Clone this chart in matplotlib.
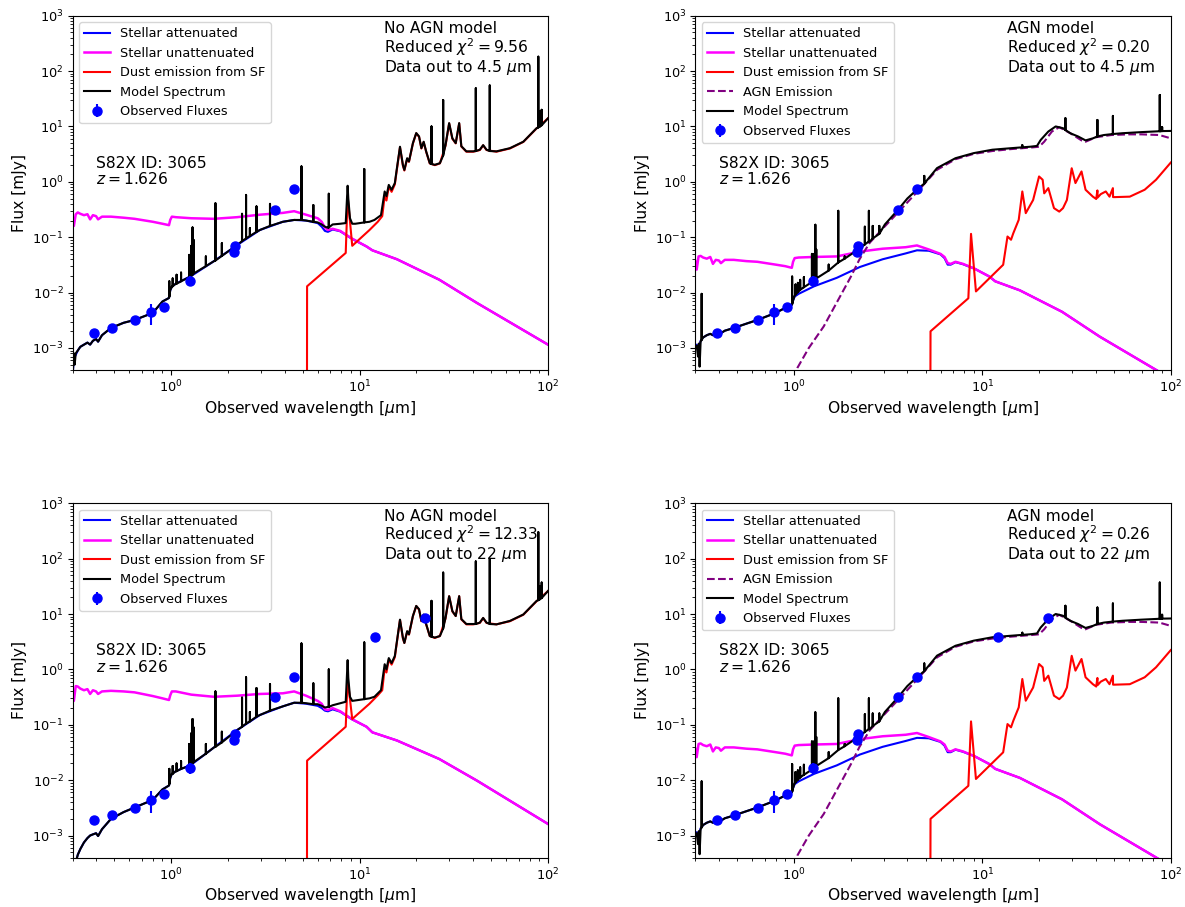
import matplotlib.pyplot as plt
import numpy as np

plt.rcParams['font.size'] = 9.3
plt.rcParams['xtick.major.size'] = 3.3
plt.rcParams['ytick.major.size'] = 3.3
plt.rcParams['xtick.major.pad'] = 3.3
plt.rcParams['ytick.major.pad'] = 3.3
plt.rcParams['xtick.minor.size'] = 1.9
plt.rcParams['ytick.minor.size'] = 1.9

# observed photometry (um, mJy)
obs_wl = [0.39, 0.485, 0.645, 0.785, 0.92, 1.26, 2.165, 2.185, 3.56, 4.51]
obs_flux = [0.0019, 0.0023, 0.0032, 0.00445, 0.0056, 0.0165, 0.054, 0.068, 0.313, 0.74]
obs_err = [0.0001, 0.0001, 0.00015, 0.0019, 0.0002, 0.0036, 0.002, 0.002, 0.01, 0.02]
wise_wl = [12.1, 22.2]
wise_flux = [3.8, 8.4]
wise_err = [0.15, 0.4]

# stellar templates
wl_star = [0.300, 0.305, 0.312, 0.320, 0.330, 0.345, 0.360, 0.372, 0.385, 0.400,
           0.410, 0.430, 0.480, 0.560, 0.640, 0.800, 0.900, 0.975, 0.990, 1.010,
           1.060, 1.280, 1.690, 2.240, 2.960, 3.920, 4.500, 5.200, 6.000, 6.300,
           6.550, 6.800, 7.200, 7.900, 9.100, 10.90, 11.70, 15.80, 26.50, 42.00,
           100.0]
unatt_45 = [0.24, 0.16, 0.26, 0.28, 0.265, 0.25, 0.26, 0.21, 0.25, 0.24,
            0.21, 0.235, 0.235, 0.225, 0.215, 0.19, 0.175, 0.165, 0.205, 0.235,
            0.23, 0.22, 0.215, 0.23, 0.255, 0.275, 0.295, 0.255, 0.22, 0.19,
            0.15, 0.135, 0.142, 0.13, 0.095, 0.068, 0.058, 0.040, 0.0171, 0.0065,
            0.00115]
att_45 = [3.0e-4, 6.5e-4, 7.5e-4, 9.0e-4, 1.05e-3, 1.15e-3, 1.25e-3, 1.15e-3, 1.35e-3, 1.45e-3,
          1.3e-3, 1.7e-3, 2.3e-3, 2.85e-3, 3.2e-3, 4.3e-3, 6.9e-3, 8.0e-3, 0.011, 0.0128,
          0.0145, 0.020, 0.037, 0.072, 0.135, 0.19, 0.205, 0.20, 0.18, 0.155,
          0.13, 0.125, 0.138, 0.128, 0.094, 0.068, 0.058, 0.040, 0.0171, 0.0065,
          0.00115]
unatt_22 = [0.47, 0.27, 0.50, 0.49, 0.45, 0.42, 0.44, 0.36, 0.42, 0.40,
            0.36, 0.40, 0.41, 0.40, 0.385, 0.33, 0.30, 0.28, 0.34, 0.40,
            0.40, 0.35, 0.32, 0.335, 0.36, 0.37, 0.40, 0.335, 0.27, 0.24,
            0.19, 0.185, 0.20, 0.175, 0.127, 0.092, 0.073, 0.052, 0.0241, 0.0098,
            0.00162]
att_22 = [2.0e-4, 2.6e-4, 3.3e-4, 4.5e-4, 5.7e-4, 7.5e-4, 9.0e-4, 1.0e-3, 1.05e-3, 1.1e-3,
          9.8e-4, 1.3e-3, 2.0e-3, 2.65e-3, 3.2e-3, 4.4e-3, 6.8e-3, 8.0e-3, 0.011, 0.013,
          0.0145, 0.019, 0.039, 0.080, 0.15, 0.215, 0.25, 0.24, 0.22, 0.20,
          0.18, 0.175, 0.19, 0.172, 0.126, 0.092, 0.073, 0.052, 0.0241, 0.0098,
          0.00162]
unatt_agn = [0.037, 0.026, 0.045, 0.046, 0.043, 0.041, 0.044, 0.033, 0.039, 0.038,
             0.034, 0.039, 0.039, 0.037, 0.036, 0.032, 0.030, 0.028, 0.036, 0.042,
             0.043, 0.044, 0.045, 0.055, 0.062, 0.066, 0.071, 0.060, 0.050, 0.044,
             0.034, 0.033, 0.036, 0.033, 0.027, 0.0195, 0.016, 0.011, 0.0045, 0.0016,
             0.00028]
att_agn = [1.0e-3, 1.15e-3, 9.5e-4, 1.35e-3, 1.55e-3, 1.7e-3, 1.8e-3, 1.7e-3, 1.9e-3, 2.0e-3,
           1.85e-3, 2.05e-3, 2.3e-3, 2.75e-3, 3.2e-3, 4.3e-3, 5.3e-3, 6.0e-3, 7.2e-3, 8.5e-3,
           9.5e-3, 0.013, 0.0185, 0.029, 0.040, 0.051, 0.058, 0.057, 0.049, 0.042,
           0.032, 0.032, 0.0355, 0.0325, 0.027, 0.0195, 0.016, 0.011, 0.0045, 0.0016,
           0.00028]

# dust emission from star formation
wl_dust = [5.26, 5.27, 8.45, 8.65, 9.15, 11.3, 12.5, 13.2, 13.6, 13.9,
           14.3, 14.8, 15.4, 15.7, 16.4, 17.0, 17.3, 17.9, 18.3, 19.2,
           20.0, 20.7, 21.3, 21.9, 22.6, 23.6, 25.1, 26.7, 28.6, 29.9,
           31.1, 32.4, 33.8, 34.7, 36.9, 40.1, 43.5, 45.3, 47.2, 53.3,
           62.8, 74.0, 87.0, 100.0]
dust_45 = [1e-5, 0.013, 0.052, 0.55, 0.07, 0.135, 0.19, 0.24, 0.55, 0.46,
           0.82, 0.66, 0.90, 1.45, 4.2, 1.95, 1.6, 2.6, 2.3, 4.9,
           7.5, 6.5, 4.0, 5.2, 3.45, 2.15, 2.0, 2.15, 4.5, 11.3,
           6.0, 4.95, 11.3, 4.35, 3.5, 3.5, 3.75, 4.55, 3.75, 3.5,
           4.0, 5.25, 9.2, 14.0]
dust_22 = [1e-5, 0.0225, 0.092, 0.67, 0.127, 0.24, 0.34, 0.42, 1.05, 0.88,
           1.5, 1.22, 1.66, 2.7, 7.8, 3.6, 3.0, 4.8, 4.25, 9.1,
           13.9, 12.0, 7.4, 9.6, 6.4, 4.0, 3.7, 4.0, 8.3, 20.9,
           11.1, 9.2, 20.9, 8.0, 6.5, 6.5, 6.9, 8.4, 6.9, 6.5,
           7.4, 9.7, 17.0, 25.9]
wl_dust_agn = [5.29, 5.31, 8.43, 8.71, 9.25, 12.9, 13.6, 14.2, 14.6, 15.6,
               16.3, 17.0, 17.8, 18.6, 20.0, 20.9, 21.3, 22.4, 24.0, 25.6,
               26.8, 28.1, 29.8, 31.2, 33.6, 35.3, 38.6, 40.2, 40.8, 40.9,
               42.5, 45.2, 47.3, 49.3, 49.4, 50.6, 60.6, 72.7, 83.5, 100.0]
dust_agn = [1e-5, 2.0e-3, 7.9e-3, 0.115, 0.0105, 0.0318, 0.103, 0.09, 0.118, 0.206,
            0.67, 0.272, 0.36, 0.47, 1.25, 1.09, 0.62, 0.77, 0.335, 0.29,
            0.335, 0.47, 1.76, 0.95, 1.54, 0.72, 0.54, 0.49, 0.70, 0.52,
            0.60, 0.67, 0.54, 0.77, 0.53, 0.53, 0.54, 0.72, 1.09, 2.23]

# AGN torus emission
wl_agn = [1.00, 1.045, 1.20, 1.44, 1.70, 2.01, 2.23, 2.53, 3.00, 3.57,
          4.53, 5.75, 7.20, 9.00, 11.3, 14.2, 18.6, 20.0, 21.3, 23.4,
          25.6, 29.4, 33.6, 35.3, 40.2, 48.3, 60.0, 70.0, 87.0, 100.0]
agn = [2.8e-4, 4.4e-4, 1.0e-3, 2.45e-3, 6.9e-3, 0.0196, 0.040, 0.08, 0.15, 0.28,
       0.67, 1.65, 2.56, 3.2, 3.6, 3.9, 4.2, 4.3, 5.3, 8.1,
       9.7, 7.5, 5.6, 5.3, 6.4, 7.0, 7.2, 7.2, 7.0, 6.1]

# total model continuum, no-AGN fits
wl_mod = [0.300, 0.305, 0.308, 0.312, 0.320, 0.330, 0.345, 0.360, 0.372, 0.385,
          0.400, 0.410, 0.430, 0.480, 0.560, 0.640, 0.800, 0.900, 0.975, 0.990,
          1.010, 1.060, 1.280, 1.690, 2.240, 2.960, 3.920, 4.500, 5.200, 6.000,
          6.300, 6.550, 6.800, 7.200, 7.900, 8.450, 8.600, 8.650, 8.720, 8.900,
          9.150, 9.500, 11.30, 12.00, 13.00, 13.60, 13.90, 14.30, 14.80, 15.40,
          15.70, 16.40, 17.00, 17.30, 17.90, 18.30, 19.20, 20.00, 20.70, 21.30,
          21.90, 22.60, 23.60, 25.10, 26.70, 28.60, 29.90, 31.10, 32.40, 33.80,
          34.70, 36.90, 40.10, 43.50, 45.30, 47.20, 53.30, 62.80, 74.00, 87.00,
          100.0]
mod_45 = [3.0e-4, 8.0e-4, 5.0e-4, 8.0e-4, 9.0e-4, 1.05e-3, 1.15e-3, 1.25e-3, 1.15e-3, 1.35e-3,
          1.45e-3, 1.3e-3, 1.7e-3, 2.3e-3, 2.85e-3, 3.2e-3, 4.3e-3, 6.9e-3, 8.0e-3, 0.011,
          0.0128, 0.0145, 0.020, 0.037, 0.072, 0.135, 0.19, 0.205, 0.20, 0.185,
          0.17, 0.155, 0.148, 0.17, 0.175, 0.18, 0.6, 0.85, 0.5, 0.22,
          0.175, 0.175, 0.19, 0.205, 0.25, 0.67, 0.55, 0.88, 0.72, 0.95,
          1.53, 4.3, 2.0, 1.64, 2.67, 2.33, 5.0, 7.6, 6.6, 4.05,
          5.3, 3.5, 2.17, 2.03, 2.17, 4.6, 11.5, 6.1, 5.0, 11.5,
          4.4, 3.55, 3.55, 3.8, 4.6, 3.8, 3.55, 4.05, 5.3, 9.3,
          14.0]
mod_22 = [2.0e-4, 2.6e-4, 3.0e-4, 3.3e-4, 4.5e-4, 5.7e-4, 7.5e-4, 9.0e-4, 1.0e-3, 1.05e-3,
          1.1e-3, 9.8e-4, 1.3e-3, 2.0e-3, 2.65e-3, 3.2e-3, 4.4e-3, 6.8e-3, 8.0e-3, 0.011,
          0.013, 0.0145, 0.019, 0.039, 0.080, 0.15, 0.215, 0.25, 0.245, 0.235,
          0.22, 0.205, 0.21, 0.225, 0.245, 0.26, 0.9, 1.47, 0.7, 0.32,
          0.27, 0.275, 0.30, 0.32, 0.42, 1.24, 1.0, 1.6, 1.3, 1.75,
          2.8, 7.9, 3.7, 3.0, 4.9, 4.3, 9.2, 14.0, 12.2, 7.5,
          9.8, 6.5, 4.0, 3.75, 4.0, 8.5, 21.0, 11.3, 9.2, 21.0,
          8.1, 6.6, 6.6, 7.0, 8.5, 7.0, 6.5, 7.5, 9.8, 17.2,
          26.0]
lines_wl = [0.979, 1.020, 1.070, 1.130, 1.247, 1.280, 1.300, 1.315, 1.530, 1.720,
            1.860, 2.380, 2.500, 2.620, 2.840, 3.350, 4.920, 5.690, 6.870, 10.60,
            24.10, 27.80, 41.40, 49.10, 88.90, 90.70, 92.60]
lines_base_45 = [0.0085, 0.013, 0.0145, 0.016, 0.019, 0.020, 0.021, 0.022, 0.030, 0.038,
                 0.046, 0.085, 0.095, 0.105, 0.125, 0.16, 0.205, 0.19, 0.15, 0.185,
                 2.1, 3.0, 3.6, 3.6, 9.6, 10.0, 10.5]
lines_peak_45 = [0.016, 0.018, 0.021, 0.023, 0.048, 0.07, 0.15, 0.09, 0.045, 0.41,
                 0.078, 0.265, 0.58, 0.146, 0.36, 0.40, 1.9, 0.38, 0.61, 1.7,
                 10.0, 30.0, 49.0, 55.0, 182.0, 18.5, 20.0]
lines_base_22 = [0.0085, 0.013, 0.0145, 0.016, 0.018, 0.019, 0.020, 0.021, 0.030, 0.040,
                 0.048, 0.092, 0.105, 0.115, 0.14, 0.18, 0.25, 0.235, 0.21, 0.29,
                 3.9, 5.5, 6.6, 6.6, 17.8, 18.5, 19.4]
lines_peak_22 = [0.016, 0.018, 0.02, 0.022, 0.045, 0.07, 0.127, 0.09, 0.045, 0.40,
                 0.075, 0.31, 0.72, 0.17, 0.46, 0.54, 2.94, 0.56, 1.0, 3.07,
                 17.3, 56.0, 89.0, 98.0, 300.0, 32.0, 37.0]

# total model continuum, AGN fits
wl_mod_agn = [0.300, 0.305, 0.310, 0.313, 0.316, 0.320, 0.330, 0.345, 0.360, 0.372,
              0.385, 0.400, 0.410, 0.430, 0.480, 0.560, 0.640, 0.800, 0.900, 0.975,
              0.990, 1.010, 1.060, 1.280, 1.720, 2.240, 2.530, 3.040, 3.570, 4.000,
              4.530, 5.750, 7.200, 9.000, 11.30, 14.20, 17.90, 19.50, 20.40, 22.40,
              24.50, 26.80, 29.40, 32.20, 35.30, 38.60, 44.20, 55.50, 69.70, 100.0]
mod_agn = [1.0e-3, 1.1e-3, 7.0e-4, 1.2e-3, 4.6e-4, 1.3e-3, 1.55e-3, 1.7e-3, 1.8e-3, 1.7e-3,
           1.9e-3, 2.0e-3, 1.85e-3, 2.05e-3, 2.3e-3, 2.75e-3, 3.2e-3, 4.3e-3, 5.3e-3, 6.0e-3,
           7.2e-3, 8.8e-3, 0.0105, 0.017, 0.035, 0.063, 0.084, 0.17, 0.313, 0.50,
           0.74, 1.77, 2.67, 3.3, 3.8, 4.05, 4.3, 4.45, 5.7, 8.1,
           10.0, 9.3, 7.5, 6.6, 5.6, 6.1, 7.0, 7.55, 7.9, 8.3]
lines_wl_agn = [0.324, 0.979, 1.020, 1.050, 1.080, 1.130, 1.247, 1.280, 1.300, 1.315,
                1.530, 1.720, 1.860, 2.380, 2.500, 2.620, 2.840, 4.920, 16.30, 27.60,
                40.80, 49.30, 87.40, 88.50, 90.00]
lines_base_agn = [1.4e-3, 6.2e-3, 9.2e-3, 0.0102, 0.0112, 0.0125, 0.0155, 0.017, 0.0175, 0.018,
                  0.025, 0.035, 0.041, 0.074, 0.084, 0.095, 0.115, 0.93, 4.2, 8.6,
                  6.6, 7.3, 8.2, 8.2, 8.25]
lines_peak_agn = [9.5e-3, 0.0195, 0.014, 0.015, 0.017, 0.019, 0.05, 0.05, 0.168, 0.06,
                  0.032, 0.30, 0.045, 0.155, 0.30, 0.16, 0.16, 1.28, 4.6, 14.1,
                  13.1, 15.5, 37.0, 9.7, 9.7]

yticks = [1e-3, 1e-2, 1e-1, 1e0, 1e1, 1e2, 1e3]


def addLines(wl, flux, lwl, base, peak):
    x = list(wl)
    y = list(flux)
    for w, b, p in zip(lwl, base, peak):
        i = int(np.searchsorted(x, w))
        x[i:i] = [w, w, w]
        y[i:i] = [b, p, b]
    return x, y


def sedPanel(ax, att, unatt, dwl, dust, mwl, mod, ptsx, ptsy, perr, title, use_agn):
    ax.loglog(wl_star, att, color='blue', lw=1.5, label='Stellar attenuated')
    ax.loglog(wl_star, unatt, color='magenta', lw=1.8, label='Stellar unattenuated')
    ax.loglog(dwl, dust, color='red', lw=1.5, label='Dust emission from SF')
    if use_agn:
        ax.loglog(wl_agn, agn, color='purple', ls='--', lw=1.5, label='AGN Emission')
    ax.loglog(mwl, mod, color='black', lw=1.5, label='Model Spectrum')
    ax.errorbar(ptsx, ptsy, yerr=perr, fmt='o', color='blue', ms=6.5, label='Observed Fluxes')
    ax.set_yticks(yticks)
    ax.set_xlim(0.3, 100)
    ax.set_ylim(4e-4, 1e3)
    ax.set_xlabel(r'Observed wavelength [$\mu$m]', fontsize=11.2, labelpad=2)
    ax.set_ylabel('Flux [mJy]', fontsize=11.2)
    ax.legend(loc='upper left', fontsize=9.3)
    ax.text(0.655, 0.985, title, transform=ax.transAxes, va='top', ha='left',
            fontsize=11.2, linespacing=1.0)
    ax.text(0.05, 0.605, 'S82X ID: 3065\n$z = 1.626$', transform=ax.transAxes,
            va='top', ha='left', fontsize=11.2, linespacing=1.05)


fig, axs = plt.subplots(2, 2, figsize=(11.85, 9.07), dpi=100)
plt.subplots_adjust(left=0.0612, right=0.988, bottom=0.0545, top=0.9827, wspace=0.31, hspace=0.376)

m45x, m45y = addLines(wl_mod, mod_45, lines_wl, lines_base_45, lines_peak_45)
m22x, m22y = addLines(wl_mod, mod_22, lines_wl, lines_base_22, lines_peak_22)
magx, magy = addLines(wl_mod_agn, mod_agn, lines_wl_agn, lines_base_agn, lines_peak_agn)

all_x = obs_wl + wise_wl
all_y = obs_flux + wise_flux
all_e = obs_err + wise_err

sedPanel(axs[0, 0], att_45, unatt_45, wl_dust, dust_45, m45x, m45y, obs_wl, obs_flux, obs_err,
         'No AGN model\nReduced $\\chi^2 = 9.56$\nData out to 4.5 $\\mu$m', False)
sedPanel(axs[0, 1], att_agn, unatt_agn, wl_dust_agn, dust_agn, magx, magy, obs_wl, obs_flux, obs_err,
         'AGN model\nReduced $\\chi^2 = 0.20$\nData out to 4.5 $\\mu$m', True)
sedPanel(axs[1, 0], att_22, unatt_22, wl_dust, dust_22, m22x, m22y, all_x, all_y, all_e,
         'No AGN model\nReduced $\\chi^2 = 12.33$\nData out to 22 $\\mu$m', False)
sedPanel(axs[1, 1], att_agn, unatt_agn, wl_dust_agn, dust_agn, magx, magy, all_x, all_y, all_e,
         'AGN model\nReduced $\\chi^2 = 0.26$\nData out to 22 $\\mu$m', True)

plt.savefig('out.png', dpi=100)
